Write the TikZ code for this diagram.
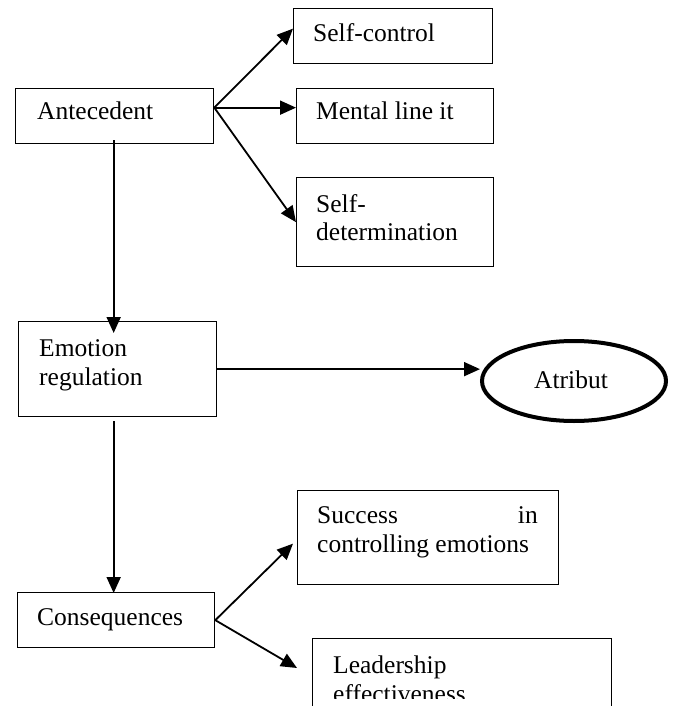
\documentclass[tikz,border=0pt]{standalone}
\usepackage{fontspec}
\setmainfont{Liberation Serif}
\usetikzlibrary{arrows.meta,shapes.geometric,calc}
\tikzset{
  box/.style={draw,line width=1.3pt,inner sep=0pt,anchor=north west},
  arr/.style={line width=1.8pt,-{Triangle[length=16pt,width=14pt]}},
  txt/.style={anchor=base west,inner sep=0pt,font=\fontsize{25.5}{29}\selectfont},
}
\begin{document}
\begin{tikzpicture}[x=1pt,y=-1pt]
\clip (0,0) rectangle (676,706);
\fill[white] (0,0) rectangle (676,706);
% boxes
\node[box,minimum width=198pt,minimum height=55pt] (ant) at (15,88) {};
\node[box,minimum width=199pt,minimum height=55pt] (sc) at (293,8) {};
\node[box,minimum width=197pt,minimum height=55pt] (ml) at (296,88) {};
\node[box,minimum width=197pt,minimum height=89pt] (sd) at (296,177) {};
\node[box,minimum width=198pt,minimum height=95pt] (em) at (18,321) {};
\node[box,minimum width=197pt,minimum height=55pt] (co) at (17,592) {};
\node[box,minimum width=261pt,minimum height=94pt] (su) at (297,490) {};
\node[box,minimum width=299pt,minimum height=90pt] (le) at (312,638) {};
\node[draw,ellipse,line width=4pt,minimum width=184pt,minimum height=80pt,inner sep=0pt] (at) at (574,381) {};
% texts
\node[txt] (t1) at (37,120) {Antecedent};
\node[txt] (t2) at (313,42) {Self-control};
\node[txt] (t3) at (316,120) {Mental line it};
\node[txt] (t4) at (316,212) {Self-};
\node[txt] (t5) at (316,240) {determination};
\node[txt] (t6) at (39,356) {Emotion};
\node[txt] (t7) at (39,385) {regulation};
\node[txt,anchor=base] (t8) at (571,388) {Atribut};
\node[txt] (t9) at (37,625) {Consequences};
\node[txt] (t10) at (317,523) {Success};
\node[txt,anchor=base east] (t11) at (538,523) {in};
\node[txt] (t12) at (317,552) {controlling emotions};
\node[txt] (t13) at (333,673) {Leadership};
\begin{scope}
\clip (312,638) rectangle (611,698);
\node[txt] (t14) at (333,702) {effectiveness};
\end{scope}
% connectors
\coordinate (a0) at ([yshift=8.5pt]ant.east);
\draw[arr] (a0) -- ([yshift=7.5pt]sc.west);
\draw[arr] (a0) -- ([yshift=8.5pt]ml.west);
\draw[arr] (a0) -- (sd.west);
\draw[arr] ([xshift=-1pt,yshift=4pt]ant.south) -- ($(ant.south |- em.north)+(-1,12)$);
\draw[arr] (em.east) -- (em.east -| at.west);
\draw[arr] ([xshift=-4pt,yshift=-4pt]em.south) -- ($(em.south |- co.north)+(-4,1)$);
\draw[arr] (co.east) -- ([xshift=-4pt,yshift=-6pt]su.west);
\draw[arr] (co.east) -- ($(le.north west)+(-15,30)$);
\end{tikzpicture}
\end{document}
